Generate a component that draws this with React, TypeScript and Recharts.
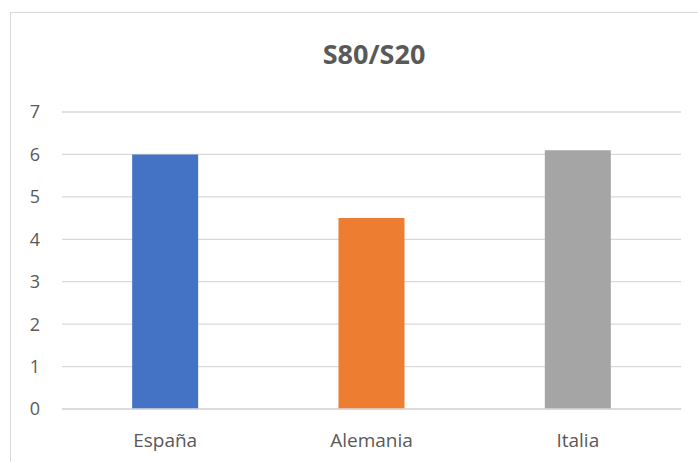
import React from "react";
import { BarChart, Bar, XAxis, YAxis, CartesianGrid, Cell } from "recharts";

const countries = ["España", "Alemania", "Italia"];
const values = [6.0, 4.5, 6.1];
const barColors = ["#4472C4", "#ED7D31", "#A5A5A5"];
const yTicks = [0, 1, 2, 3, 4, 5, 6, 7];
const title = "S80/S20";

const data = countries.map((c, i) => ({ name: c, value: values[i] }));

export default function App() {
  return (
    <div style={{ position: "fixed", left: 0, top: 0, width: 698, height: 462, overflow: "hidden", background: "#fff" }}>
      <div
        style={{
          position: "absolute",
          left: 10,
          top: 12,
          width: 720,
          height: 480,
          border: "1px solid #d9d9d9",
          boxSizing: "border-box",
        }}
      />
      <div
        style={{
          position: "absolute",
          left: 0,
          width: 748,
          top: 36,
          textAlign: "center",
          fontFamily: "'Open Sans', sans-serif",
          fontWeight: 700,
          fontSize: 27,
          color: "#595959",
          lineHeight: "36px",
        }}
      >
        {title}
      </div>
      <div style={{ position: "absolute", left: 0, top: 0 }}>
        <BarChart
          width={698}
          height={462}
          data={data}
          margin={{ top: 112, right: 17, bottom: 20, left: 10 }}
          barCategoryGap="34%"
        >
          <CartesianGrid vertical={false} stroke="#d9d9d9" strokeWidth={1.3} />
          <XAxis
            dataKey="name"
            height={33}
            axisLine={{ stroke: "#d9d9d9", strokeWidth: 1.3 }}
            tickLine={false}
            tickSize={0}
            tickMargin={25}
            tick={{ fill: "#595959", fontSize: 19, fontFamily: "'Open Sans', sans-serif" }}
          />
          <YAxis
            width={52}
            domain={[0, 7]}
            ticks={yTicks}
            axisLine={false}
            tickLine={false}
            tickSize={0}
            tickMargin={22}
            tick={{ fill: "#595959", fontSize: 18, fontFamily: "'Open Sans', sans-serif" }}
          />
          <Bar dataKey="value" isAnimationActive={false}>
            {data.map((d, i) => (
              <Cell key={d.name} fill={barColors[i]} />
            ))}
          </Bar>
        </BarChart>
      </div>
    </div>
  );
}
